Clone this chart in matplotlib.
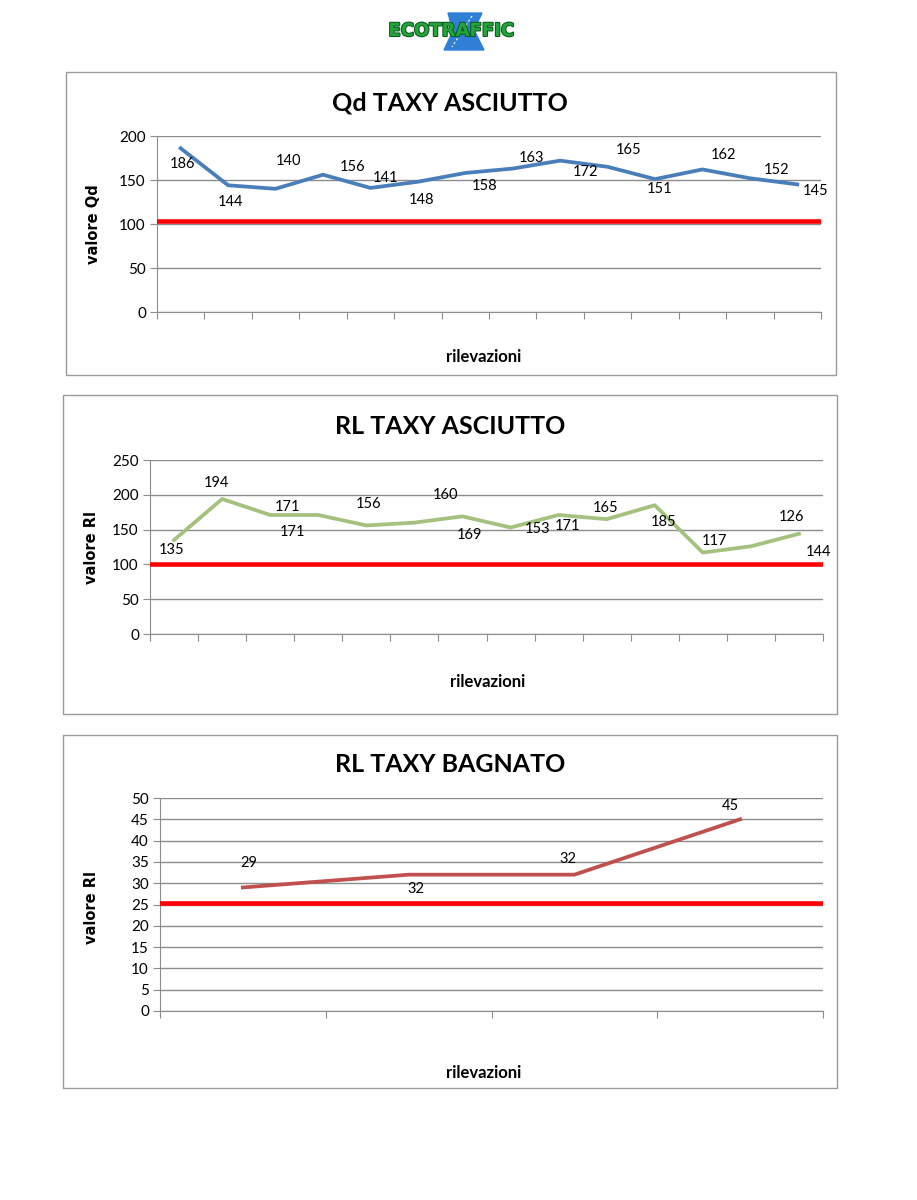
import numpy as np
import matplotlib
matplotlib.use('Agg')
import matplotlib.pyplot as plt
from matplotlib.patches import Rectangle, Polygon
import matplotlib.patheffects as pe

W, H = 917, 1200

# dati
qd_values = [186, 144, 140, 156, 141, 148, 158, 163, 172, 165, 151, 162, 152, 145]
qd_limit = 103
rl_asc_values = [135, 194, 171, 171, 156, 160, 169, 153, 171, 165, 185, 117, 126, 144]
rl_asc_limit = 101
rl_bag_values = [29, 32, 32, 45]
rl_bag_limit = 25.3

# spostamento etichette (pixel, dx, dy)
qd_offsets = [(2, -16), (2, -17), (13, 28), (30, 8), (15, 10), (4, -18), (19, -13),
              (19, 11), (25, -11), (21, 17), (5, -10), (21, 14), (27, 8), (18, -7)]
rl_asc_offsets = [(-2, -10), (-6, 16), (17, 8), (-26, -17), (2, 21), (31, 28), (7, -19),
                  (27, -1), (9, -11), (-1, 11), (9, -17), (12, 12), (41, 29), (20, -18)]
rl_bag_offsets = [(6, 24), (7, -14), (-6, 16), (-10, 13)]

GRID = '#8c8c8c'
FONT = 'Lato'

fig = plt.figure(figsize=(W / 100, H / 100), dpi=100)
bg = fig.add_axes([0, 0, 1, 1])
bg.set_xlim(0, W); bg.set_ylim(H, 0)
bg.axis('off')

# logo
bg.add_patch(Polygon([(448, 13), (482, 13), (474, 30), (484, 50), (444, 50), (453, 31)],
                     closed=True, color='#2f7fd6', zorder=1))
bg.plot([472, 452], [16, 47], color='white', lw=0.8, ls=(0, (2, 2)), zorder=1.5)
bg.text(451, 31, 'ECOTRAFFIC', ha='center', va='center', fontsize=13, fontweight='heavy',
        family='DejaVu Sans', color='#22a63c', zorder=2,
        path_effects=[pe.withStroke(linewidth=1.5, foreground='#0d5a1e')])


def chart(box, plot, title, title_y, ylabel, ylabel_xy, xlabel_xy,
          values, limit, ymax, ystep, color, offsets):
    bx0, by0, bx1, by1 = box
    bg.add_patch(Rectangle((bx0, by0), bx1 - bx0, by1 - by0, fill=False,
                           edgecolor='#9a9a9a', lw=1))
    l, t, r, b = plot
    ax = fig.add_axes([l / W, 1 - b / H, (r - l) / W, (b - t) / H])
    ax.set_facecolor('none')
    n = len(values)
    x = np.arange(n) + 0.5
    ax.plot(x, values, color=color, lw=2.7, zorder=3)
    ax.axhline(limit, color='#ff0000', lw=3.3, zorder=4)
    ax.set_xlim(0, n)
    ax.set_ylim(0, ymax)
    ax.set_yticks(np.arange(0, ymax + 1, ystep))
    ax.set_xticks(np.arange(n + 1))
    ax.set_xticklabels([])
    ax.grid(axis='y', color=GRID, lw=1)
    for s in ['top', 'right']:
        ax.spines[s].set_visible(False)
    for s in ['left', 'bottom']:
        ax.spines[s].set_color(GRID)
    ax.tick_params(axis='x', direction='out', length=5, color=GRID)
    ax.tick_params(axis='y', direction='out', length=5, color=GRID, labelsize=11, pad=3)
    for lab in ax.get_yticklabels():
        lab.set_family(FONT)
    for xi, v, (dx, dy) in zip(x, values, offsets):
        ax.annotate(str(v), (xi, v), xytext=(dx * 0.72, dy * 0.72), textcoords='offset points',
                    ha='center', va='center', fontsize=10.5, family=FONT, zorder=5)
    bg.text(450, title_y, title, ha='center', va='center', fontsize=18, fontweight='bold',
            family=FONT)
    bg.text(ylabel_xy[0], ylabel_xy[1], ylabel, ha='center', va='center', rotation=90,
            fontsize=10.5, fontweight='bold', family='DejaVu Sans')
    bg.text(xlabel_xy[0], xlabel_xy[1], 'rilevazioni', ha='center', va='center',
            fontsize=12, fontweight='bold', family=FONT)
    return ax


chart((66, 72, 836, 375), (157, 136, 821, 312), 'Qd TAXY ASCIUTTO', 103,
      'valore Qd', (93, 224), (484, 357), qd_values, qd_limit, 200, 50, '#4a7ebb', qd_offsets)
chart((63, 395, 837, 714), (150, 460, 823, 634), 'RL TAXY ASCIUTTO', 426,
      'valore Rl', (91, 548), (488, 682), rl_asc_values, rl_asc_limit, 250, 50, '#a4c17e',
      rl_asc_offsets)
chart((63, 735, 837, 1088), (160, 798, 823, 1011), 'RL TAXY BAGNATO', 765,
      'valore Rl', (91, 908), (484, 1073), rl_bag_values, rl_bag_limit, 50, 5, '#c0504d',
      rl_bag_offsets)

fig.savefig('out.png', dpi=100)
